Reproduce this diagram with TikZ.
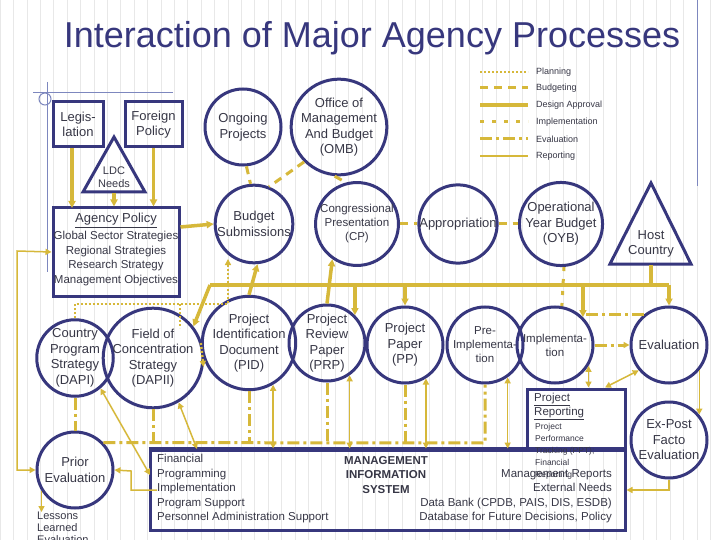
\documentclass[tikz,border=0pt]{standalone}
\usepackage{fontspec}
\setmainfont{Liberation Sans}
\usetikzlibrary{arrows.meta}
\definecolor{navy}{RGB}{55,55,125}
\definecolor{gold}{RGB}{214,184,58}
\definecolor{txt}{RGB}{55,55,70}
\definecolor{deco}{RGB}{125,135,190}
\begin{document}
\begin{tikzpicture}[x=1pt,y=-1pt,
  circ/.style={circle,draw=navy,line width=3pt,minimum size=76pt,inner sep=0pt,align=center,text=txt,font=\fontsize{13}{15.5}\selectfont},
  box/.style={draw=navy,line width=3pt,inner sep=0pt,align=center,text=txt,font=\fontsize{13}{15.5}\selectfont},
  lbl/.style={text=txt,inner sep=0pt,align=center,font=\fontsize{13}{15.5}\selectfont},
  arr/.style={-{Triangle[length=7pt,width=7pt]}},
  barr/.style={{Triangle[length=6pt,width=6pt]}-{Triangle[length=6pt,width=6pt]}},
  sarr/.style={-{Triangle[length=6pt,width=6pt]}},
  plan/.style={draw=gold,line width=2.5pt,dash pattern=on 2pt off 2pt},
  budg/.style={draw=gold,line width=3pt,dash pattern=on 8pt off 6pt},
  design/.style={draw=gold,line width=3.5pt},
  impl/.style={draw=gold,line width=3pt,dash pattern=on 4pt off 8pt},
  eval/.style={draw=gold,line width=3pt,dash pattern=on 12pt off 4pt on 3pt off 4pt},
  rep/.style={draw=gold,line width=1.5pt},
  legt/.style={text=txt,anchor=west,inner sep=0pt,font=\fontsize{9}{10}\selectfont}]
\useasboundingbox (0,0) rectangle (720,540);
\fill[white] (0,0) rectangle (720,540);
\draw[gray!18,line width=0.5pt,step=13.4] (0,0) grid (720,540);
% decoration
\draw[deco,line width=1pt] (33,93)--(173,93) (47,82)--(47,272) (697,0)--(697,186);
\draw[deco,line width=1pt] (45,99) circle (6);
% title
\node[text=navy,font=\fontsize{36}{40}\selectfont] (title) at (372,38) {Interaction of Major Agency Processes};
% legend
\foreach \y/\s/\t in {72/plan/Planning,88/budg/Budgeting,105/design/Design Approval,122/impl/Implementation,139/eval/Evaluation,156/rep/Reporting}{
  \coordinate (l\t a) at (480,\y); \coordinate (l\t b) at (528,\y);
  \draw[\s] (l\t a) -- (l\t b);
  \node[legt] (n\t) at (536,\y) {\t};}
% boxes
\node[box,minimum width=50pt,minimum height=45pt] (leg) at (78,124.5) {Legis-\\lation};
\node[box,minimum width=57pt,minimum height=45pt] (fp) at (153.5,124.5) {Foreign\\Policy};
\draw[navy,line width=3pt,line join=miter] (114,137)--(145,192)--(83,192)--cycle;
\node[lbl,font=\fontsize{11}{12.5}\selectfont] (ldc) at (114,177) {LDC\\Needs};
\node[box,minimum width=126pt,minimum height=88pt] (ap) at (116,252) {};
\node[lbl,anchor=north] (apt) at (116,213) {\underline{Agency Policy}};
\node[lbl,anchor=north,font=\fontsize{11.5}{14.5}\selectfont] (apl) at (116,231) {Global Sector Strategies\\Regional Strategies\\Research Strategy\\Management Objectives};
\draw[navy,line width=3pt,line join=miter] (651,183)--(691,264)--(610,264)--cycle;
\node[lbl] (hc) at (651,244) {Host\\Country};
% circles
\node[circ] (og) at (243,127) {Ongoing\\Projects};
\node[circ] (omb) at (339,127) {Office of\\Management\\And Budget\\(OMB)};
\node[circ] (bs) at (254,224) {Budget\\Submissions};
\node[circ,font=\fontsize{11.5}{14}\selectfont] (cp) at (357,224) {Congressional\\Presentation\\(CP)};
\node[circ] (apr) at (458,224) {Appropriation};
\node[circ] (oyb) at (561,224) {Operational\\Year Budget\\(OYB)};
\node[circ] (cps) at (75,358) {Country\\Program\\Strategy\\(DAPI)};
\node[circ] (foc) at (153,358) {Field of\\Concentration\\Strategy\\(DAPII)};
\node[circ] (pid) at (249,343) {Project\\Identification\\Document\\(PID)};
\node[circ] (prp) at (327,343) {Project\\Review\\Paper\\(PRP)};
\node[circ] (pp) at (405,345) {Project\\Paper\\(PP)};
\node[circ,font=\fontsize{11.5}{14}\selectfont] (pre) at (485,345) {Pre-\\Implementa-\\tion};
\node[circ,font=\fontsize{11.5}{14}\selectfont] (impl) at (555,345) {Implementa-\\tion};
\node[circ] (evc) at (669,345) {Evaluation};
\node[circ] (prior) at (75,470) {Prior\\Evaluation};
\node[circ] (exp) at (669,440) {Ex-Post\\Facto\\Evaluation};
% MIS
\node[box,minimum width=475pt,minimum height=80pt] (mis) at (387.5,490) {};
\node[box,fill=white,minimum width=98pt,minimum height=61pt] (pr) at (576,419.5) {};
\draw[navy,line width=3pt] (mis.north west) -- (mis.north east);
\node[lbl,anchor=north west,align=left,font=\fontsize{11.5}{12.5}\selectfont] (prt) at (534,393) {\underline{Project}\\\underline{Reporting}};
\node[lbl,anchor=north west,align=left,font=\fontsize{8.5}{12}\selectfont] (prs) at (535,423) {Project\\Performance\\Tracking (PPT);\\Financial\\Reporting};
\node[lbl,anchor=north west,align=left,font=\fontsize{11.5}{14.5}\selectfont] (misl) at (157,454) {Financial\\Programming\\Implementation\\Program Support\\Personnel Administration Support};
\node[lbl,font=\bfseries\fontsize{11.5}{14.5}\selectfont] (mist) at (386,475) {MANAGEMENT\\INFORMATION\\SYSTEM};
\node[lbl,anchor=north east,align=right,font=\fontsize{11.5}{14.5}\selectfont] (misr) at (612,469) {Management Reports\\External Needs\\Data Bank (CPDB, PAIS, DIS, ESDB)\\Database for Future Decisions, Policy};
\node[lbl,anchor=north west,align=left,font=\fontsize{11}{12}\selectfont] (les) at (37,512) {Lessons\\Learned\\Evaluation};
% design approval
\draw[design,arr] (leg.south -| 72,0) -- (72,208);
\draw[design,arr] (114,193) -- (ap.north -| 114,0);
\draw[design,arr] (fp.south) -- (fp.south |- ap.north);
\draw[design,arr] ([yshift=25pt]ap.east) -- (bs.west);
\coordinate (dl) at (210,285);
\draw[design] (evc.north |- dl) -- (dl);
\draw[design,arr] (dl) -- (foc.38);
\draw[design,arr] (prp.45 |- dl) -- (prp.45);
\draw[design,arr] (pp.north |- dl) -- (pp.north);
\draw[design,arr] (impl.45 |- dl) -- (impl.45);
\draw[design,arr] (evc.north |- dl) -- (evc.north);
\draw[design] (651,265) -- (651,285);
\draw[design,arr] (pid.north) -- (bs.-85);
\draw[design,arr] (prp.north) -- (cp.-125);
% budgeting
\draw[budg] (og.-85) -- (bs.95);
\draw[budg] (omb.-135) -- (bs.68);
\draw[budg] (omb.-95) -- (cp.105);
\draw[budg] (cp.east) -- (apr.west);
\draw[budg] (apr.east) -- (oyb.west);
\draw[impl] ([xshift=3pt]oyb.south) -- (impl.80);
% planning
\coordinate (pj) at (228,304);
\draw[plan,sarr] (cps.north) |- (pj) -- (228,259);
\draw[plan] (180,304) -- (180,328);
\draw[plan,sarr] (pid.west) -- (foc.-10);
% evaluation
\coordinate (el) at (103,443);
\draw[eval] (prior.44) -- (pre.south |- el) -- (pre.south);
\draw[eval] (pid.south) -- (pid.south |- el);
\draw[eval] (prp.south) -- (prp.south |- el);
\draw[eval] (pp.south) -- (pp.south |- el);
\draw[eval] (foc.south) -- (foc.south |- el);
\draw[eval] (cps.south) -- (prior.north);
\draw[eval,sarr] (impl.east) -- (evc.west);
\draw[eval] (evc.130) -- (impl.45 |- evc.130);
% reporting
\draw[rep,barr] (pid.-60) -- (pid.-60 |- mis.north);
\draw[rep,barr] (prp.-55) -- (prp.-55 |- mis.north);
\draw[rep,barr] (pp.-58) -- (pp.-58 |- mis.north);
\draw[rep,barr] (pre.-55) -- (pre.-55 |- mis.north);
\draw[rep,barr] (foc.-60) -- (197,449);
\draw[rep,barr] (cps.-50) -- (150,475);
\draw[rep,sarr] (157,490) -| (131,471) -- (prior.east);
\draw[rep,barr] (prior.west) -- (17,470) -- (17,251) -- (ap.west);
\draw[rep,sarr] (prior.-148) -- (prior.-148 |- les.north);
\draw[rep,barr] (impl.-32) -- (impl.-32 |- pr.north);
\draw[rep,barr] (evc.-140) -- ([xshift=29pt]pr.north);
\draw[rep,sarr] (evc.-40) -- (exp.40);
\draw[rep,sarr] (exp.south) |- (mis.east);
\end{tikzpicture}
\end{document}
